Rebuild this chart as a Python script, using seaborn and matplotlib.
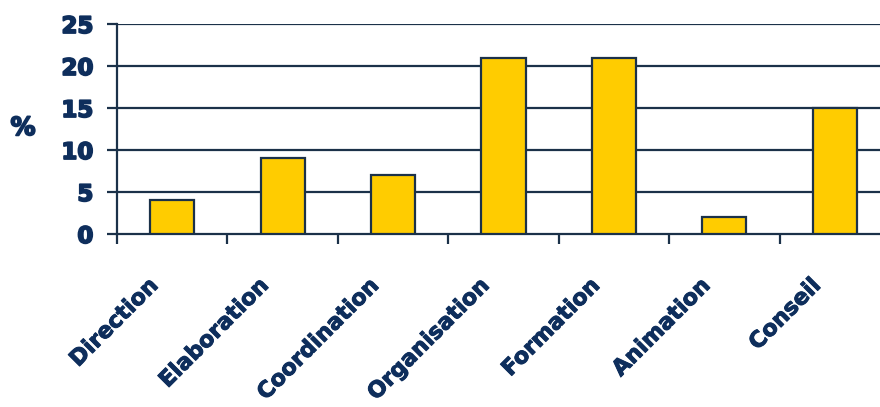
import matplotlib
matplotlib.use("Agg")
import matplotlib.pyplot as plt
import matplotlib.transforms as mtransforms
import matplotlib.patheffects as pe
import seaborn as sns
import pandas as pd

categories = ["Direction", "Elaboration", "Coordination", "Organisation",
              "Formation", "Animation", "Conseil"]
values = [4, 9, 7, 21, 21, 2, 15]
y_ticks = [0, 5, 10, 15, 20, 25]

navy = "#0E2E5C"
line_col = "#1B3149"
bar_col = "#FFCC00"

sns.set_theme(style="white")
plt.rcParams["font.family"] = ["DejaVu Sans"]

df = pd.DataFrame({"cat": categories, "val": values})

fig = plt.figure(figsize=(8.8, 4.07), dpi=100)
W, H = 880, 407
ax = fig.add_axes([117 / W, (H - 234) / H, (890 - 117) / W, (234 - 24) / H])

sns.barplot(data=df, x="cat", y="val", color=bar_col, width=0.4,
            edgecolor=line_col, linewidth=1.6, saturation=1, ax=ax, zorder=3)

thick = [pe.withStroke(linewidth=1.3, foreground=navy)]
thin = [pe.withStroke(linewidth=0.7, foreground=navy)]

ax.set_ylim(0, 25)
ax.set_xlim(-0.5, len(categories) - 0.5)
ax.set_yticks(y_ticks)
ax.set_yticklabels([str(t) for t in y_ticks], fontsize=16.5, fontweight="heavy",
                   color=navy)
for lbl in ax.get_yticklabels():
    lbl.set_path_effects(thick)

# horizontal grid lines
for t in y_ticks[1:]:
    ax.axhline(t, color=line_col, lw=1.6, zorder=1)

for s in ["top", "right"]:
    ax.spines[s].set_visible(False)
ax.spines["left"].set_color(line_col)
ax.spines["left"].set_linewidth(1.6)
ax.spines["bottom"].set_color(line_col)
ax.spines["bottom"].set_linewidth(1.6)

ax.tick_params(axis="y", which="both", left=True, length=7, width=1.6,
               color=line_col, pad=10)

# category boundary ticks on the x axis
ax.set_xticks([i - 0.5 for i in range(len(categories))], minor=False)
ax.set_xticklabels([])
ax.tick_params(axis="x", which="major", bottom=True, length=7, width=1.6,
               color=line_col, direction="out")

# rotated category labels
offset = mtransforms.ScaledTranslation(-10 / 100, -41 / 100, fig.dpi_scale_trans)
trans = mtransforms.blended_transform_factory(ax.transData, ax.transAxes) + offset
for i, c in enumerate(categories):
    ax.text(i, 0, c, rotation=45, ha="right", va="top", fontsize=16,
            fontweight="heavy", color=navy, transform=trans,
            path_effects=thin)

ax.set_xlabel("")
ax.set_ylabel("")
fig.text(23 / W, 1 - 128 / H, "%", fontsize=18, fontweight="heavy", color=navy,
         ha="center", va="center", path_effects=thick)

fig.savefig("out.png", dpi=100)
